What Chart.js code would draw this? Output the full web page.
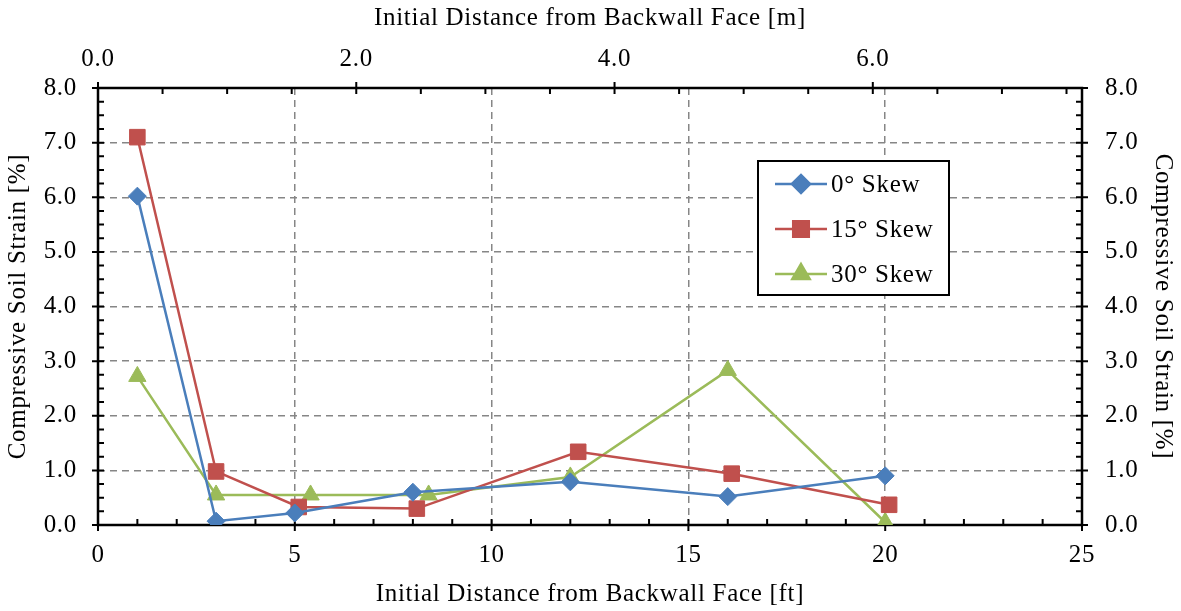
<!DOCTYPE html>
<html>
<head>
<meta charset="utf-8">
<script src="https://cdn.jsdelivr.net/npm/chart.js@4.4.1/dist/chart.umd.min.js"></script>
<style>
  body { margin: 0; background: #ffffff; }
  #wrap { width: 1181px; height: 611px; }
</style>
</head>
<body>
<div id="wrap"><canvas id="strainChart" width="1181" height="611"></canvas></div>
<script>
// =========================
// DATA
// =========================

// x = initial distance from backwall face [ft], y = compressive soil strain [%]
const skew0X = [1, 3, 5, 8, 12, 16, 20];
const skew0Y = [6.02, 0.07, 0.22, 0.60, 0.79, 0.52, 0.90];

const skew15X = [1, 3, 5.1, 8.1, 12.2, 16.1, 20.1];
const skew15Y = [7.10, 0.98, 0.33, 0.30, 1.34, 0.94, 0.37];

const skew30X = [1, 3, 5.4, 8.4, 12, 16, 20];
const skew30Y = [2.72, 0.55, 0.55, 0.55, 0.88, 2.83, 0.05];

const seriesNames = ["0\u00b0 Skew", "15\u00b0 Skew", "30\u00b0 Skew"];
const meterTicks = [0, 2, 4, 6];

const FT_TO_M = 0.3048;
const FONT = "'Liberation Serif', 'Times New Roman', serif";
const FONT_SIZE = 25;

function toPoints(xs, ys) {
    return xs.map((x, i) => ({ x: x, y: ys[i] }));
}

// =========================
// TEXT SPACING (reference type is a bit wider)
// =========================

const spacingPlugin = {
    id: "spacing",
    beforeDraw(chart) {
        chart.ctx.letterSpacing = "0.7px";
    }
};

// =========================
// FRAME + TICK MARKS
// =========================

const framePlugin = {
    id: "frame",
    beforeDatasetsDraw(chart) {
        const ctx = chart.ctx;
        const a = chart.chartArea;
        const sx = chart.scales.x, sy = chart.scales.y, sm = chart.scales.x2;

        ctx.save();
        ctx.strokeStyle = "#000";
        ctx.lineWidth = 2.5;
        ctx.strokeRect(a.left, a.top, a.right - a.left, a.bottom - a.top);

        ctx.lineWidth = 2;
        ctx.beginPath();

        // bottom [ft]
        for (let v = 0; v <= 25; v++) {
            const px = sx.getPixelForValue(v);
            const major = v % 5 === 0;
            ctx.moveTo(px, a.bottom + (major ? 6 : 0));
            ctx.lineTo(px, a.bottom - 6);
        }

        // top [m]
        for (let v = 0; v <= 7.5; v += 0.5) {
            const px = sm.getPixelForValue(v);
            const major = v % 2 === 0;
            ctx.moveTo(px, a.top - (major ? 6 : 0));
            ctx.lineTo(px, a.top + 6);
        }

        // left and right [%]
        for (let v = 0; v <= 8; v += 0.25) {
            const py = sy.getPixelForValue(v);
            const major = v % 1 === 0;
            ctx.moveTo(a.left - (major ? 6 : 0), py);
            ctx.lineTo(a.left + 6, py);
            ctx.moveTo(a.right + (major ? 6 : 0), py);
            ctx.lineTo(a.right - 6, py);
        }

        ctx.stroke();
        ctx.restore();
    }
};

// =========================
// LEGEND BOX
// =========================

const legendPlugin = {
    id: "boxLegend",
    afterDraw(chart) {
        const ctx = chart.ctx;
        const box = { x: 758, y: 161, w: 191, h: 134 };

        ctx.save();
        ctx.fillStyle = "#fff";
        ctx.fillRect(box.x, box.y, box.w, box.h);
        ctx.strokeStyle = "#000";
        ctx.lineWidth = 2;
        ctx.strokeRect(box.x, box.y, box.w, box.h);

        chart.data.datasets.forEach((ds, i) => {
            const rowY = box.y + 23 + i * 45;

            ctx.strokeStyle = ds.borderColor;
            ctx.lineWidth = ds.borderWidth;
            ctx.beginPath();
            ctx.moveTo(box.x + 17, rowY);
            ctx.lineTo(box.x + 69, rowY);
            ctx.stroke();

            ctx.fillStyle = ds.pointBackgroundColor;
            ctx.strokeStyle = ds.pointBorderColor;
            Chart.helpers.drawPoint(ctx, {
                pointStyle: ds.pointStyle,
                radius: ds.pointRadius,
                borderWidth: 1,
                rotation: 0
            }, box.x + 43, rowY);

            ctx.fillStyle = "#000";
            ctx.font = FONT_SIZE + "px " + FONT;
            ctx.textAlign = "left";
            ctx.textBaseline = "middle";
            ctx.fillText(ds.label, box.x + 73, rowY + 1);
        });

        ctx.restore();
    }
};

// =========================
// CHART
// =========================

function makeSeries(label, xs, ys, color, style, radius) {
    return {
        label: label,
        data: toPoints(xs, ys),
        borderColor: color,
        backgroundColor: color,
        pointBackgroundColor: color,
        pointBorderColor: color,
        borderWidth: 2.5,
        pointStyle: style,
        pointRadius: radius,
        pointHoverRadius: radius,
        pointBorderWidth: 1,
        tension: 0
    };
}

const gridStyle = {
    color: "#868686",
    lineWidth: 1.5,
    drawTicks: false
};

const tickFont = { family: FONT, size: FONT_SIZE };
const titleFont = { family: FONT, size: FONT_SIZE };

new Chart(document.getElementById("strainChart"), {
    type: "line",
    data: {
        datasets: [
            makeSeries(seriesNames[0], skew0X, skew0Y, "#4A7EBB", "rectRot", 9),
            makeSeries(seriesNames[1], skew15X, skew15Y, "#C0504D", "rect", 11),
            makeSeries(seriesNames[2], skew30X, skew30Y, "#9BBB59", "triangle", 10)
        ]
    },
    options: {
        responsive: false,
        devicePixelRatio: 1,
        animation: false,
        layout: { padding: 0 },
        plugins: {
            legend: { display: false },
            tooltip: { enabled: false }
        },
        scales: {
            x: {
                type: "linear",
                position: "bottom",
                min: 0,
                max: 25,
                ticks: { stepSize: 5, color: "#000", font: tickFont, padding: 15, maxRotation: 0 },
                grid: gridStyle,
                border: { display: false, dash: [7, 5] },
                title: {
                    display: true,
                    text: "Initial Distance from Backwall Face [ft]",
                    color: "#000",
                    font: titleFont,
                    padding: { top: 4, bottom: 2 }
                },
                afterFit(scale) { scale.height = 86; }
            },
            x2: {
                type: "linear",
                position: "top",
                min: 0,
                max: 25 * FT_TO_M,
                afterBuildTicks(scale) {
                    scale.ticks = meterTicks.map(v => ({ value: v }));
                },
                ticks: {
                    color: "#000",
                    font: tickFont,
                    padding: 14,
                    maxRotation: 0,
                    callback: v => Number(v).toFixed(1)
                },
                grid: { display: true, drawOnChartArea: false, drawTicks: false },
                border: { display: false },
                title: {
                    display: true,
                    text: "Initial Distance from Backwall Face [m]",
                    color: "#000",
                    font: titleFont,
                    padding: { top: 3, bottom: 4 }
                },
                afterFit(scale) { scale.height = 88; }
            },
            y: {
                type: "linear",
                position: "left",
                min: 0,
                max: 8,
                ticks: {
                    stepSize: 1,
                    color: "#000",
                    font: tickFont,
                    padding: 21,
                    callback: v => Number(v).toFixed(1)
                },
                grid: gridStyle,
                border: { display: false, dash: [7, 5] },
                title: {
                    display: true,
                    text: "Compressive Soil Strain [%]",
                    color: "#000",
                    font: titleFont,
                    padding: { top: 3, bottom: 4 }
                },
                afterFit(scale) { scale.width = 98; }
            },
            y2: {
                type: "linear",
                position: "right",
                min: 0,
                max: 8,
                ticks: {
                    stepSize: 1,
                    color: "#000",
                    font: tickFont,
                    padding: 23,
                    callback: v => Number(v).toFixed(1)
                },
                grid: { display: true, drawOnChartArea: false, drawTicks: false },
                border: { display: false },
                title: {
                    display: true,
                    text: "Compressive Soil Strain [%]",
                    color: "#000",
                    font: titleFont,
                    padding: { top: 3, bottom: 4 }
                },
                afterFit(scale) { scale.width = 99; }
            }
        }
    },
    plugins: [spacingPlugin, framePlugin, legendPlugin]
});
</script>
</body>
</html>
